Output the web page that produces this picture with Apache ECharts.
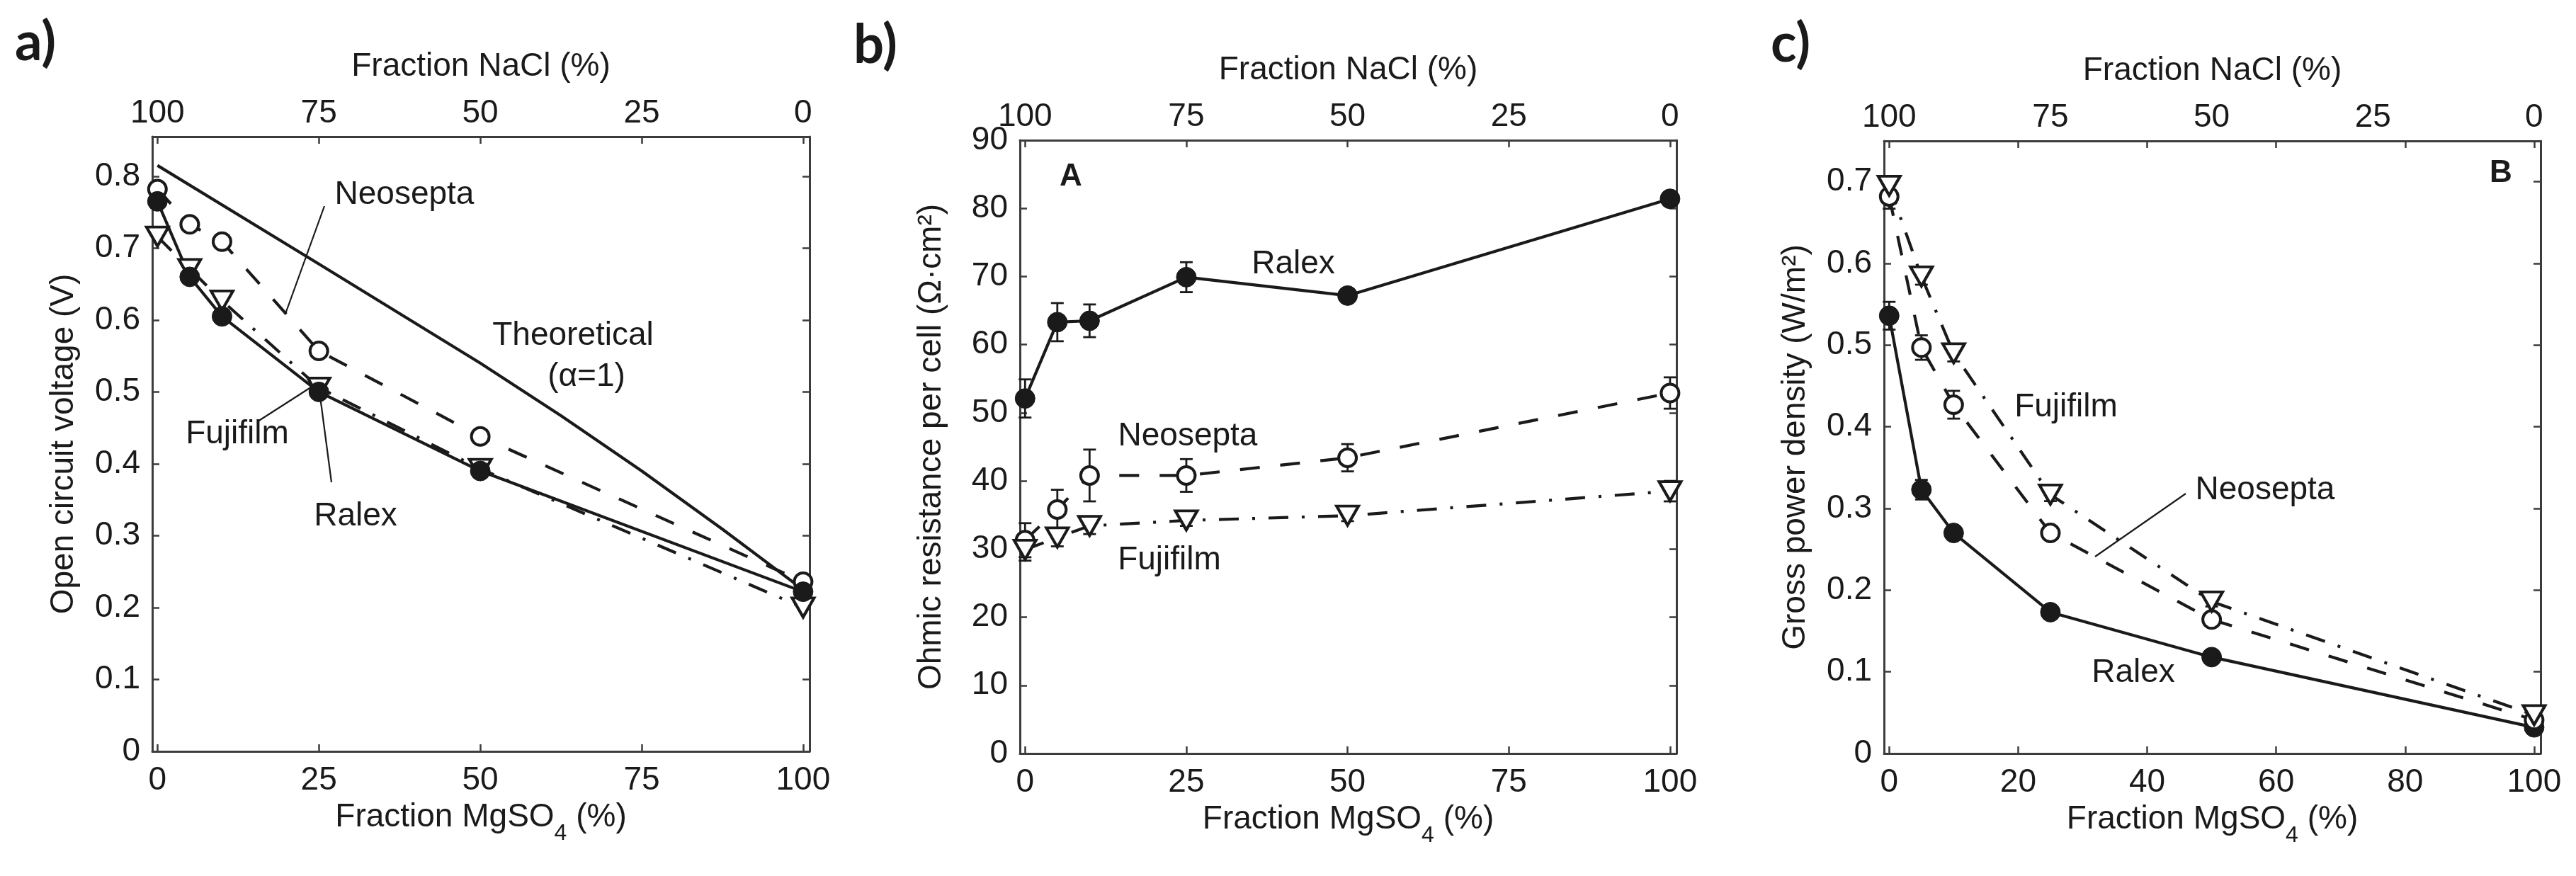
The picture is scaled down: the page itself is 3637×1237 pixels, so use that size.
<!DOCTYPE html>
<html>
<head>
<meta charset="utf-8">
<title>OCV, ohmic resistance and power density vs MgSO4 fraction</title>
<style>
  html, body { margin: 0; background: #fff; }
  #chart { width: 3637px; height: 1237px; }
</style>
</head>
<body>
<div id="chart"></div>
<script src="https://cdn.jsdelivr.net/npm/echarts@6/dist/echarts.min.js"></script>
<script>
// ---- data (fraction MgSO4 in %) ----
var frac = [0, 5, 10, 25, 50, 100];

// a) open circuit voltage (V)
var ocvRalex    = [0.765, 0.660, 0.605, 0.500, 0.390, 0.222];
var ocvNeosepta = [0.782, 0.733, 0.709, 0.557, 0.438, 0.236];
var ocvFujifilm = [0.716, 0.671, 0.627, 0.506, 0.393, 0.200];
var theoryFrac  = [0, 25, 50, 62.5, 75, 87.5, 100];
var ocvTheory   = [0.815, 0.678, 0.540, 0.467, 0.390, 0.309, 0.225];

// b) ohmic resistance per cell (ohm cm2) and error bars
var resRalex       = [52.1, 63.3, 63.5, 69.9, 67.2, 81.4];
var resRalexErr    = [2.8, 2.8, 2.4, 2.2, 1.0, 1.0];
var resNeosepta    = [31.3, 35.8, 40.8, 40.8, 43.4, 52.9];
var resNeoseptaErr = [2.5, 2.9, 3.8, 2.4, 2.0, 2.3];
var resFujifilm    = [29.9, 31.7, 33.4, 34.2, 34.9, 38.5];
var resFujifilmErr = [1.6, 1.3, 1.2, 0.8, 0.8, 1.5];

// c) gross power density (W/m2) and error bars
var pdRalex       = [0.536, 0.323, 0.270, 0.173, 0.118, 0.032];
var pdRalexErr    = [0.017, 0.012, 0.008, 0.006, 0.005, 0.004];
var pdNeosepta    = [0.682, 0.497, 0.427, 0.270, 0.164, 0.041];
var pdNeoseptaErr = [0.015, 0.015, 0.017, 0.008, 0.006, 0.004];
var pdFujifilm    = [0.695, 0.584, 0.490, 0.317, 0.186, 0.047];
var pdFujifilmErr = [0.012, 0.010, 0.010, 0.008, 0.006, 0.004];

// ---- ticks ----
var mgTicks25  = [0, 25, 50, 75, 100];
var mgTicks20  = [0, 20, 40, 60, 80, 100];
var naclLabels = ['100', '75', '50', '25', '0'];
var ocvTicks   = [0, 0.1, 0.2, 0.3, 0.4, 0.5, 0.6, 0.7, 0.8];
var resTicks   = [0, 10, 20, 30, 40, 50, 60, 70, 80, 90];
var pdTicks    = [0, 0.1, 0.2, 0.3, 0.4, 0.5, 0.6, 0.7];

var FONT = 'Liberation Sans';
var INK = '#1a1a1a';
var EDGE = '#3c3c3c';
var X_MIN = -0.8, X_MAX = 101;

var dom = document.getElementById('chart');
var myChart = echarts.init(dom, null, {renderer: 'canvas'});

var grids = [
  {left: 215, top: 193, width: 928, height: 868},
  {left: 1440, top: 198, width: 927, height: 866},
  {left: 2660, top: 199, width: 927, height: 865}
];

var lblStyle = {color: INK, fontFamily: FONT, fontSize: 46};
var lineEdge = {onZero: false, lineStyle: {color: EDGE, width: 3}};
var tickStyle = {color: EDGE, width: 2.5};

var xAxes = [], yAxes = [], series = [];

function fmtNum(v) { return String(+v.toFixed(2)); }

function addAxes(g, yMax, yTicks, yName, bottomTicks, topTicks) {
  xAxes.push({
    gridIndex: g, type: 'value', position: 'bottom', min: X_MIN, max: X_MAX,
    axisLine: lineEdge,
    axisTick: {inside: true, length: 10, customValues: bottomTicks, lineStyle: tickStyle},
    axisLabel: Object.assign({customValues: bottomTicks, margin: 18, formatter: fmtNum}, lblStyle),
    splitLine: {show: false},
    name: '{t|Fraction MgSO}{s|4}{t| (%)}',
    nameLocation: 'middle', nameGap: 70,
    nameTextStyle: {rich: {
      t: {fontFamily: FONT, fontSize: 46, color: INK, lineHeight: 50, verticalAlign: 'top'},
      s: {fontFamily: FONT, fontSize: 32, color: INK, lineHeight: 32, padding: [30, 0, 0, 0], verticalAlign: 'top'}
    }}
  });
  xAxes.push({
    gridIndex: g, type: 'value', position: 'top', min: X_MIN, max: X_MAX,
    axisLine: lineEdge,
    axisTick: {inside: true, length: 10, customValues: topTicks, lineStyle: tickStyle},
    axisLabel: Object.assign({
      customValues: mgTicks25, margin: 10,
      formatter: function (v) { return naclLabels[mgTicks25.indexOf(Math.round(v))]; }
    }, lblStyle),
    splitLine: {show: false},
    name: 'Fraction NaCl (%)', nameLocation: 'middle', nameGap: 76,
    nameTextStyle: lblStyle
  });
  yAxes.push({
    gridIndex: g, type: 'value', position: 'left', min: 0, max: yMax,
    axisLine: lineEdge,
    axisTick: {inside: true, length: 10, customValues: yTicks, lineStyle: tickStyle},
    axisLabel: Object.assign({customValues: yTicks, margin: 17, formatter: fmtNum}, lblStyle),
    splitLine: {show: false},
    name: yName, nameLocation: 'middle', nameGap: 102,
    nameTextStyle: lblStyle
  });
  yAxes.push({
    gridIndex: g, type: 'value', position: 'right', min: 0, max: yMax,
    axisLine: lineEdge,
    axisTick: {inside: true, length: 10, customValues: yTicks, lineStyle: tickStyle},
    axisLabel: {show: false},
    splitLine: {show: false}
  });
}

var styles = {
  ralex: {symbol: 'circle', symbolSize: 28, symbolRotate: 0,
          itemStyle: {color: INK, borderColor: INK, borderWidth: 1},
          lineStyle: {color: INK, width: 4.2, type: 'solid'}},
  neo:   {symbol: 'circle', symbolSize: 25, symbolRotate: 0,
          itemStyle: {color: '#fff', borderColor: INK, borderWidth: 4},
          lineStyle: {color: INK, width: 4.2, type: [28, 29]}},
  fuji:  {symbol: 'triangle', symbolSize: [31, 27], symbolRotate: 180,
          itemStyle: {color: '#fff', borderColor: INK, borderWidth: 4},
          lineStyle: {color: INK, width: 4.2, type: [28, 19, 4, 19]}}
};

function pairs(xs, ys) {
  return xs.map(function (x, i) { return [x, ys[i]]; });
}

function addLine(g, xs, ys, kind) {
  var s = styles[kind];
  series.push({
    type: 'line', xAxisIndex: 2 * g, yAxisIndex: 2 * g, z: 3,
    data: pairs(xs, ys), symbol: s.symbol, symbolSize: s.symbolSize,
    symbolRotate: s.symbolRotate, showSymbol: true,
    itemStyle: s.itemStyle, lineStyle: s.lineStyle, silent: true
  });
}

function addErr(g, xs, ys, es) {
  series.push({
    type: 'custom', xAxisIndex: 2 * g, yAxisIndex: 2 * g, z: 2, silent: true,
    encode: {x: 0, y: [1, 2]},
    data: xs.map(function (x, i) { return [x, ys[i] - es[i], ys[i] + es[i]]; }),
    renderItem: function (params, api) {
      var lo = api.coord([api.value(0), api.value(1)]);
      var hi = api.coord([api.value(0), api.value(2)]);
      var w = 9;
      var st = {stroke: INK, lineWidth: 2.8};
      return {type: 'group', children: [
        {type: 'line', shape: {x1: lo[0], y1: lo[1], x2: hi[0], y2: hi[1]}, style: st},
        {type: 'line', shape: {x1: lo[0] - w, y1: lo[1], x2: lo[0] + w, y2: lo[1]}, style: st},
        {type: 'line', shape: {x1: hi[0] - w, y1: hi[1], x2: hi[0] + w, y2: hi[1]}, style: st}
      ]};
    }
  });
}

// panel a
addAxes(0, 0.855, ocvTicks, 'Open circuit voltage (V)', mgTicks25, mgTicks25);
series.push({
  type: 'line', xAxisIndex: 0, yAxisIndex: 0, z: 3, silent: true,
  data: pairs(theoryFrac, ocvTheory), showSymbol: false,
  lineStyle: {color: INK, width: 4.2}
});
addLine(0, frac, ocvFujifilm, 'fuji');
addLine(0, frac, ocvNeosepta, 'neo');
addLine(0, frac, ocvRalex, 'ralex');

// panel b
addAxes(1, 90, resTicks, 'Ohmic resistance per cell (\u03A9\u00B7cm\u00B2)', mgTicks25, mgTicks25);
addErr(1, frac, resRalex, resRalexErr);
addErr(1, frac, resNeosepta, resNeoseptaErr);
addErr(1, frac, resFujifilm, resFujifilmErr);
addLine(1, frac, resRalex, 'ralex');
addLine(1, frac, resNeosepta, 'neo');
addLine(1, frac, resFujifilm, 'fuji');

// panel c
addAxes(2, 0.75, pdTicks, 'Gross power density (W/m\u00B2)', mgTicks20, mgTicks20);
addErr(2, frac, pdRalex, pdRalexErr);
addErr(2, frac, pdNeosepta, pdNeoseptaErr);
addErr(2, frac, pdFujifilm, pdFujifilmErr);
addLine(2, frac, pdRalex, 'ralex');
addLine(2, frac, pdNeosepta, 'neo');
addLine(2, frac, pdFujifilm, 'fuji');

// annotations
function note(x, y, text, size, weight, family) {
  return {type: 'text', x: x, y: y, z: 10, silent: true, style: {
    text: text, fill: INK, align: 'center', verticalAlign: 'middle',
    fontSize: size || 46, fontWeight: weight || 'normal', fontFamily: family || FONT
  }};
}
function leader(x1, y1, x2, y2) {
  return {type: 'line', z: 10, silent: true, shape: {x1: x1, y1: y1, x2: x2, y2: y2},
          style: {stroke: INK, lineWidth: 2.2}};
}

var graphics = [
  note(50, 60, 'a)', 76, 'bold', 'Lato'),
  note(1236, 64, 'b)', 76, 'bold', 'Lato'),
  note(2528, 62, 'c)', 76, 'bold', 'Lato'),
  // a
  note(571, 275, 'Neosepta'),
  leader(458, 291, 403, 443),
  note(809, 474, 'Theoretical'),
  note(828, 532, '(\u03B1=1)'),
  note(335, 613, 'Fujifilm'),
  leader(364, 595, 445, 543),
  note(502, 729, 'Ralex'),
  leader(468, 681, 452, 560),
  // b
  note(1512, 250, 'A', 44, 'bold'),
  note(1826, 373, 'Ralex'),
  note(1677, 616, 'Neosepta'),
  note(1651, 791, 'Fujifilm'),
  // c
  note(3531, 245, 'B', 44, 'bold'),
  note(2917, 575, 'Fujifilm'),
  note(3198, 692, 'Neosepta'),
  leader(3086, 697, 2958, 786),
  note(3012, 950, 'Ralex')
];

var option = {
  backgroundColor: '#fff',
  animation: false,
  grid: grids,
  xAxis: xAxes,
  yAxis: yAxes,
  series: series,
  graphic: graphics
};

myChart.setOption(option);
window.addEventListener('resize', myChart.resize);
</script>
</body>
</html>
